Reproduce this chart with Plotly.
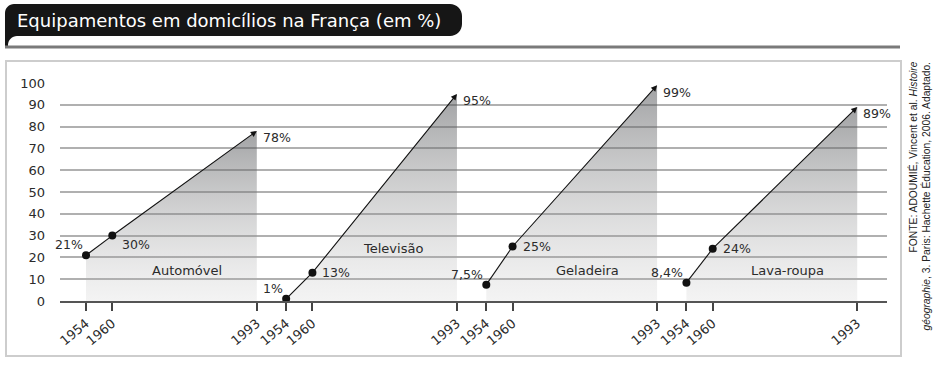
import math
import plotly.graph_objects as go

# ---------------- data ----------------
categories = ["Automóvel", "Televisão", "Geladeira", "Lava-roupa"]
years = [1954, 1960, 1993]
values = [
    [21, 30, 78],
    [1, 13, 95],
    [7.5, 25, 99],
    [8.4, 24, 89],
]
value_labels = [
    ["21%", "30%", "78%"],
    ["1%", "13%", "95%"],
    ["7,5%", "25%", "99%"],
    ["8,4%", "24%", "89%"],
]
y_ticks = list(range(0, 101, 10))
title_text = "Equipamentos em domicílios na França (em %)"
source_line1 = "FONTE: ADOUMIÉ, Vincent et al. <i>Histoire</i>"
source_line2 = "<i>géographie</i>, 3. Paris: Hachette Éducation, 2006. Adaptado."

# ---------------- layout helpers ----------------
W, H = 942, 368
L, R, T, B = 60, 887, 83, 301          # plot area in pixels
GROUP_STEP = 45.7                      # x units between groups
FONT = "DejaVu Sans"
TXT = "#2b2b2b"


def fx(px):
    return (px - L) / (R - L)


def fy(py):
    return (B - py) / (B - T)


def xpos(g, year):
    return g * GROUP_STEP + (year - years[0])


fig = go.Figure()

tickvals, ticktext = [], []
annotations = []
name_pos = [(23, 14), (24.5, 24), (23, 14), (23, 14)]   # (year offset, y)
mid_yshift = [-9, 0, 0, 0]

for g, cat in enumerate(categories):
    xs = [xpos(g, yr) for yr in years]
    vs = values[g]
    # shaded area under the line
    fig.add_trace(go.Scatter(
        x=[xs[0], xs[0], xs[1], xs[2], xs[2], xs[0]],
        y=[0, vs[0], vs[1], vs[2], 0, 0],
        mode="none", fill="toself",
        fillgradient=dict(type="vertical",
                          colorscale=[[0, "rgba(190,190,190,0.18)"],
                                      [1, "rgba(75,77,80,0.52)"]]),
        hoverinfo="skip", showlegend=False))
    # first segment + points
    fig.add_trace(go.Scatter(
        x=xs[:2], y=vs[:2], mode="lines+markers",
        line=dict(color="#111111", width=1.1),
        marker=dict(color="#111111", size=8),
        cliponaxis=False, showlegend=False, hoverinfo="skip"))
    # arrow
    annotations.append(dict(
        x=xs[2], y=vs[2], ax=xs[1], ay=vs[1], xref="x", yref="y",
        axref="x", ayref="y", text="", showarrow=True,
        arrowhead=2, arrowsize=1.1, arrowwidth=1.1, arrowcolor="#111111"))
    # value labels
    lab = value_labels[g]
    annotations.append(dict(x=xs[0], y=vs[0], xref="x", yref="y", text=lab[0],
                            showarrow=False, xanchor="right", yanchor="bottom",
                            xshift=-1, yshift=1,
                            font=dict(family=FONT, size=12.5, color=TXT)))
    annotations.append(dict(x=xs[1], y=vs[1], xref="x", yref="y", text=lab[1],
                            showarrow=False, xanchor="left", yanchor="middle",
                            xshift=8, yshift=mid_yshift[g],
                            font=dict(family=FONT, size=12.5, color=TXT)))
    annotations.append(dict(x=xs[2], y=vs[2], xref="x", yref="y", text=lab[2],
                            showarrow=False, xanchor="left", yanchor="middle",
                            xshift=4, yshift=-7,
                            font=dict(family=FONT, size=12.5, color=TXT)))
    # category name
    annotations.append(dict(x=xpos(g, years[0]) + name_pos[g][0], y=name_pos[g][1],
                            xref="x", yref="y", text=cat, showarrow=False,
                            font=dict(family=FONT, size=13, color=TXT)))
    for yr, xv in zip(years, xs):
        tickvals.append(xv)
        ticktext.append(str(yr))

# title
annotations.append(dict(x=fx(15), y=fy(20), xref="paper", yref="paper",
                        text=title_text, showarrow=False, xanchor="left",
                        yanchor="middle",
                        font=dict(family=FONT, size=18, color="white")))
# source (two rotated lines, top aligned)
for line_txt, cx in ((source_line1, 912), (source_line2, 925)):
    annotations.append(dict(x=fx(cx), y=fy(60), xref="paper", yref="paper",
                            text=line_txt, showarrow=False, textangle=-90,
                            xanchor="center", yanchor="top",
                            font=dict(family="Liberation Sans", size=10.3,
                                      color="#222222")))


def path(points):
    return "M " + " L ".join(f"{fx(x):.5f},{fy(y):.5f}" for x, y in points) + " Z"


def rounded_tab():
    pts = [(5, 47), (5, 13)]

    def arc(cx, cy, r, a0, a1, n=8):
        out = []
        for i in range(n + 1):
            a = math.radians(a0 + (a1 - a0) * i / n)
            out.append((cx + r * math.cos(a), cy + r * math.sin(a)))
        return out
    pts += arc(14, 13, 9, 180, 270)
    pts += arc(450, 16, 12, 270, 360)
    pts += arc(450, 24, 12, 0, 90)
    pts += arc(17, 45, 9, 270, 180)
    pts += [(8, 47)]
    return path(pts)


shapes = [
    dict(type="path", path=rounded_tab(), xref="paper", yref="paper",
         fillcolor="#161616", line=dict(width=0), layer="above"),
    dict(type="rect", xref="paper", yref="paper", x0=fx(5), x1=fx(900),
         y0=fy(45.5), y1=fy(48.5), fillcolor="#7a7a7a", line=dict(width=0)),
    dict(type="rect", xref="paper", yref="paper", x0=fx(6), x1=fx(901),
         y0=fy(61), y1=fy(356), fillcolor="rgba(0,0,0,0)",
         line=dict(color="#cdcdcd", width=2), layer="below"),
]

fig.update_layout(
    width=W, height=H,
    margin=dict(l=L, r=W - R, t=T, b=H - B, pad=0),
    paper_bgcolor="white", plot_bgcolor="white",
    showlegend=False,
    annotations=annotations, shapes=shapes,
    font=dict(family=FONT, color=TXT),
    xaxis=dict(range=[-5.94, 182.9], tickmode="array", tickvals=tickvals,
               ticktext=ticktext, tickangle=-40, ticks="outside", ticklen=8,
               tickwidth=1.5, tickcolor="#444444", showgrid=False,
               showline=True, linecolor="#555555", linewidth=1.5,
               zeroline=False, tickfont=dict(family=FONT, size=13, color=TXT),
               fixedrange=True),
    yaxis=dict(range=[0, 100], tickmode="array", tickvals=y_ticks,
               showgrid=True, gridcolor="#b0b0b0", gridwidth=1.5,
               zeroline=False, showline=False, ticks="",
               ticklabelstandoff=14,
               tickfont=dict(family=FONT, size=13, color=TXT), fixedrange=True),
)

fig.write_html("out.html", config={"displayModeBar": False},
               post_script="document.body.style.margin='0';")
